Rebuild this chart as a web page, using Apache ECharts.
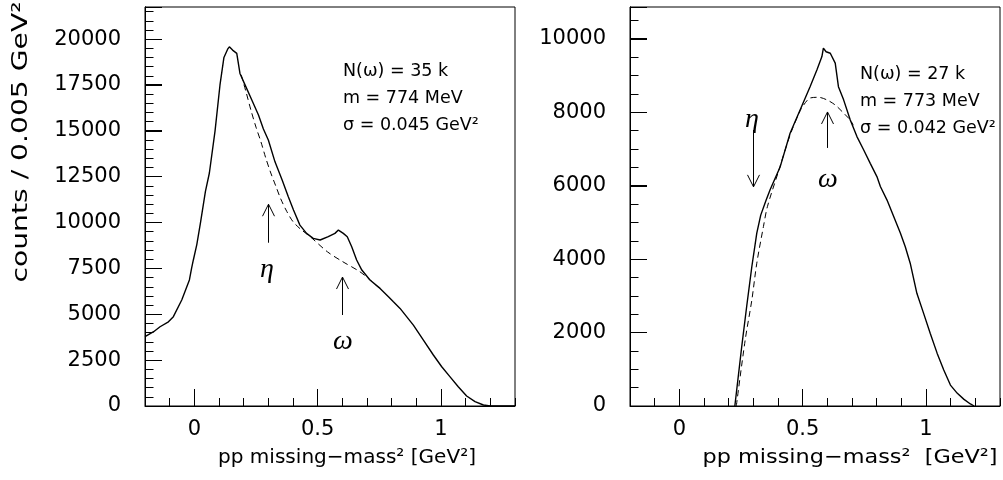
<!DOCTYPE html>
<html><head><meta charset="utf-8">
<script src="https://cdn.jsdelivr.net/npm/echarts@6/dist/echarts.min.js"></script>
<style>html,body{margin:0;padding:0;background:#fff}#c{width:1003px;height:480px}</style>
</head><body><div id="c"></div>
<script>
// ---- Left panel: data histogram (counts / 0.005 GeV^2) ----
const leftX = [-0.2,-0.165,-0.139,-0.105,-0.085,-0.051,-0.02,-0.011,-0.004,0.01,0.025,0.045,0.061,0.084,0.104,0.12,0.135,0.142,0.155,0.172,0.185,0.206,0.233,0.26,0.28,0.30,0.327,0.356,0.381,0.402,0.428,0.455,0.482,0.51,0.543,0.57,0.584,0.604,0.62,0.638,0.658,0.679,0.712,0.753,0.787,0.807,0.834,0.888,0.928,0.969,1.003,1.036,1.07,1.104,1.138,1.172,1.2,1.3];
const leftCounts = [3780,4050,4320,4590,4870,5780,6870,7520,7960,8800,10000,11700,12700,15000,17500,19000,19450,19580,19400,19220,18130,17490,16680,15860,15100,14500,13310,12320,11410,10680,9860,9410,9140,9050,9230,9410,9590,9410,9230,8680,7960,7410,6870,6410,5960,5680,5320,4410,3600,2780,2140,1600,1050,545,235,55,0,0];
// Left panel: background fit (dashed)
const leftFitX = [0.19,0.21,0.23,0.25,0.27,0.29,0.31,0.33,0.35,0.375,0.40,0.43,0.47,0.54,0.60,0.67,0.71,0.75];
const leftFit = [18050,17100,16100,15200,14400,13500,12700,12000,11300,10600,10050,9650,9230,8400,7880,7330,6900,6420];

// ---- Right panel ----
const rightX = [0.225,0.253,0.273,0.294,0.314,0.33,0.352,0.368,0.409,0.449,0.49,0.53,0.558,0.578,0.584,0.595,0.612,0.632,0.645,0.666,0.693,0.72,0.747,0.774,0.801,0.815,0.842,0.869,0.896,0.916,0.936,0.963,0.99,1.017,1.045,1.072,1.099,1.127,1.154,1.18,1.195];
const rightCounts = [0,1620,2710,3800,4710,5200,5610,5890,6520,7430,8070,8700,9160,9520,9750,9650,9610,9340,8700,8340,7790,7340,6980,6610,6250,5980,5610,5160,4710,4340,3890,3070,2530,1980,1440,980,570,345,180,55,0];
const rightFitX = [0.231,0.267,0.294,0.314,0.341,0.357,0.40,0.45,0.49,0.504,0.53,0.564,0.598,0.632,0.666,0.693,0.705];
const rightFit = [0,1800,2890,3890,4890,5430,6350,7400,8050,8200,8390,8410,8340,8200,7980,7790,7650];

// Axis ranges / ticks
const xRange = [-0.2, 1.3];
const xMajorTicks = [0, 0.5, 1];
const leftYTicks = [0, 2500, 5000, 7500, 10000, 12500, 15000, 17500, 20000];
const rightYTicks = [0, 2000, 4000, 6000, 8000, 10000];
const leftYMax = 21750, rightYMax = 10870;

// Annotations
const leftInfo = ['N(ω) = 35 k', 'm = 774 MeV', 'σ = 0.045 GeV²'];
const rightInfo = ['N(ω) = 27 k', 'm = 773 MeV', 'σ = 0.042 GeV²'];
const yTitle = 'counts / 0.005 GeV²';
const xTitleL = 'pp missing−mass² [GeV²]';
const xTitleR = 'pp missing−mass²  [GeV²]';

const zip = (a, b) => a.map((v, i) => [v, b[i]]);
const FONT = 'DejaVu Sans';
const chart = echarts.init(document.getElementById('c'), null, {renderer: 'canvas'});

function minorX(grid) {
  return {gridIndex: grid, type: 'value', min: xRange[0], max: xRange[1], interval: 0.1,
    axisLine: {show: true, onZero: false, lineStyle: {color: '#000', width: 1}},
    axisTick: {show: true, inside: true, length: 8, lineStyle: {color: '#000', width: 1}},
    axisLabel: {show: false}, splitLine: {show: false}};
}
function majorX(grid) {
  return {gridIndex: grid, type: 'value', min: xMajorTicks[0], max: xMajorTicks[2], interval: 0.5,
    axisLine: {show: true, onZero: false, lineStyle: {color: '#000', width: 1}},
    axisTick: {show: true, inside: true, length: 17, lineStyle: {color: '#000', width: 1}},
    axisLabel: {show: true, margin: 13, color: '#000', fontFamily: FONT, fontSize: 21},
    splitLine: {show: false}};
}
function minorY(grid, max) {
  return {gridIndex: grid, type: 'value', min: 0, max: max, interval: 500,
    axisLine: {show: true, onZero: false, lineStyle: {color: '#000', width: 1}},
    axisTick: {show: true, inside: true, length: 8.5, lineStyle: {color: '#000', width: 1}},
    axisLabel: {show: false}, splitLine: {show: false}};
}
function majorY(grid, max, step) {
  return {gridIndex: grid, type: 'value', min: 0, max: max, interval: step, position: 'left',
    axisLine: {show: true, onZero: false, lineStyle: {color: '#000', width: 1}},
    axisTick: {show: true, inside: true, length: 17, lineStyle: {color: '#000', width: 1}},
    axisLabel: {show: true, margin: 24, color: '#000', fontFamily: FONT, fontSize: 21,
      formatter: v => (v % step === 0 ? String(v) : '')},
    splitLine: {show: false}};
}
function hiddenY(grid, max) {
  return {gridIndex: grid, type: 'value', min: 0, max: max, show: false, splitLine: {show: false}};
}

const gl = 145, gr = 630, gw = 370, gt = 7, gh = 399;
const unit = gw / (xRange[1] - xRange[0]);

chart.setOption({
  animation: false,
  backgroundColor: '#fff',
  grid: [
    {left: gl, top: gt, width: gw, height: gh, show: true, borderColor: '#000', borderWidth: 1},
    {left: gl + (0 - xRange[0]) * unit, top: gt, width: unit, height: gh},
    {left: gr, top: gt, width: gw, height: gh, show: true, borderColor: '#000', borderWidth: 1},
    {left: gr + (0 - xRange[0]) * unit, top: gt, width: unit, height: gh}
  ],
  xAxis: [minorX(0), majorX(1), minorX(2), majorX(3)],
  yAxis: [minorY(0, leftYMax), majorY(0, leftYMax, 2500), hiddenY(1, leftYMax),
          minorY(2, rightYMax), majorY(2, rightYMax, 2000), hiddenY(3, rightYMax)],
  series: [
    {type: 'line', xAxisIndex: 0, yAxisIndex: 0, data: zip(leftX, leftCounts), showSymbol: false,
     lineStyle: {color: '#000', width: 1.4}, z: 3},
    {type: 'line', xAxisIndex: 0, yAxisIndex: 0, data: zip(leftFitX, leftFit), showSymbol: false, smooth: 0.3,
     lineStyle: {color: '#000', width: 1, type: [6, 4]}, z: 2},
    {type: 'line', xAxisIndex: 2, yAxisIndex: 3, data: zip(rightX, rightCounts), showSymbol: false,
     lineStyle: {color: '#000', width: 1.4}, z: 3},
    {type: 'line', xAxisIndex: 2, yAxisIndex: 3, data: zip(rightFitX, rightFit), showSymbol: false, smooth: 0.3,
     lineStyle: {color: '#000', width: 1, type: [6, 4]}, z: 2}
  ]
});

// text width helper for scaling titles to the reference widths
const ctx = document.createElement('canvas').getContext('2d');
function textW(t, size) { ctx.font = size + 'px "' + FONT + '"'; return ctx.measureText(t).width; }
const crisp = v => Math.round(v - 0.5) + 0.5;

function arrow(gridAxes, x, yTail, yTip) {
  const a = chart.convertToPixel(gridAxes, [x, yTail]);
  const b = chart.convertToPixel(gridAxes, [x, yTip]);
  const d = b[1] < a[1] ? 1 : -1; // +1 if pointing up
  const px = crisp(a[0]);
  return {type: 'group', children: [
    {type: 'line', shape: {x1: px, y1: a[1], x2: px, y2: b[1]}, style: {stroke: '#000', lineWidth: 1}},
    {type: 'polyline', shape: {points: [[px - 6, b[1] + d * 12], [px, b[1]], [px + 6, b[1] + d * 12]]},
     style: {stroke: '#000', lineWidth: 1, fill: null}}
  ]};
}
function tickLine(x1, y1, x2, y2) {
  return {type: 'line', shape: {x1: x1, y1: y1, x2: x2, y2: y2}, style: {stroke: '#000', lineWidth: 1}, z: 10};
}
function txt(t, x, y, size) {
  return {type: 'text', x: x, y: y, style: {text: t, font: size + 'px "' + FONT + '"', fill: '#000',
    align: 'left', verticalAlign: 'middle'}};
}
function greek(t, x, y) {
  return {type: 'text', x: x, y: y, style: {text: t, font: 'italic 28px "Liberation Serif"', fill: '#000',
    align: 'center', verticalAlign: 'middle'}};
}
const L = {xAxisIndex: 0, yAxisIndex: 0}, R = {xAxisIndex: 2, yAxisIndex: 3};
const graphics = [];
// long (major) ticks placed through the axis scales
[[L, leftYTicks], [R, rightYTicks]].forEach(([ax, yt]) => {
  xMajorTicks.forEach(x => { const p = chart.convertToPixel(ax, [x, 0]); const px = crisp(p[0]);
    graphics.push(tickLine(px, p[1], px, p[1] - 17)); });
  yt.forEach(v => { const p = chart.convertToPixel(ax, [xRange[0], v]); const py = crisp(p[1]);
    graphics.push(tickLine(p[0], py, p[0] + 17, py)); });
});
leftInfo.forEach((t, i) => graphics.push(txt(t, 343, 71 + i * 27, 17.5)));
rightInfo.forEach((t, i) => graphics.push(txt(t, 860, 74 + i * 27, 17.5)));
graphics.push(arrow(L, 0.3, 8900, 11000));
graphics.push(arrow(L, 0.6, 4960, 7030));
graphics.push(arrow(R, 0.3, 7520, 5970));
graphics.push(arrow(R, 0.6, 7030, 8010));
graphics.push(greek('η', 267, 270));
graphics.push(greek('ω', 343, 342));
graphics.push(greek('η', 752, 120));
graphics.push(greek('ω', 828, 180));
// axis titles
const yw = textW(yTitle, 21);
graphics.push({type: 'text', x: 22, y: 142, rotation: Math.PI / 2, scaleX: 281 / yw,
  style: {text: yTitle, font: '21px "' + FONT + '"', fill: '#000', align: 'center', verticalAlign: 'middle'}});
const xl = textW(xTitleL, 20), xr = textW(xTitleR, 20);
graphics.push({type: 'text', x: 347, y: 458, scaleX: 258 / xl,
  style: {text: xTitleL, font: '20px "' + FONT + '"', fill: '#000', align: 'center', verticalAlign: 'middle'}});
graphics.push({type: 'text', x: 850, y: 458, scaleX: 295 / xr,
  style: {text: xTitleR, font: '20px "' + FONT + '"', fill: '#000', align: 'center', verticalAlign: 'middle'}});
chart.setOption({graphic: graphics});
</script></body></html>
